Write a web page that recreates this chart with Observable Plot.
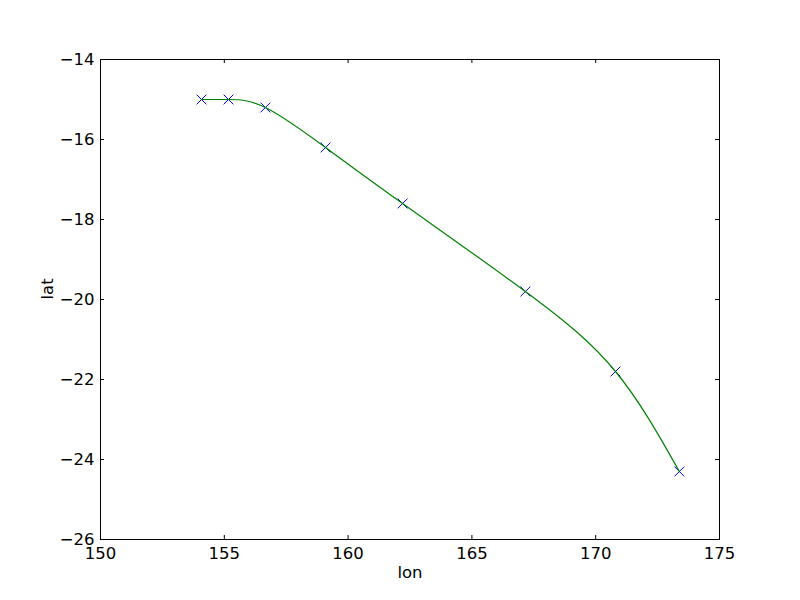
<!DOCTYPE html>
<html><head><meta charset="utf-8">
<script src="https://cdn.jsdelivr.net/npm/d3@7"></script>
<script src="https://cdn.jsdelivr.net/npm/@observablehq/plot@0.6"></script>
<style>body{margin:0;background:#fff}svg{font-family:"DejaVu Sans",sans-serif}</style>
</head><body><div id="c"></div>
<script>
const lon = [154.08, 155.17, 156.66, 159.09, 162.2, 167.16, 170.8, 173.38];
const lat = [-15.0, -15.0, -15.2, -16.2, -17.6, -19.8, -21.8, -24.3];
const xTicks = [150, 155, 160, 165, 170, 175];
const yTicks = [-26, -24, -22, -20, -18, -16, -14];
const data = lon.map((x, i) => ({lon: x, lat: lat[i]}));
const W = 800, H = 600, mL = 100, mR = 81, mT = 59, mB = 61;
const iw = W - mL - mR, ih = H - mT - mB;
const chart = Plot.plot({
  width: W, height: H,
  marginLeft: mL, marginRight: mR, marginTop: mT, marginBottom: mB,
  style: {fontSize: "16.5px", fontFamily: "DejaVu Sans, sans-serif", color: "#000", background: "#fff"},
  x: {domain: [150, 175], ticks: xTicks, label: null},
  y: {domain: [-26, -14], ticks: yTicks, label: null},
  marks: [
    Plot.dot(data, {x: "lon", y: "lat", symbol: "times", stroke: "#0000ff", r: 4.5, strokeWidth: 1}),
    Plot.line(data, {x: "lon", y: "lat", curve: "natural", stroke: "#008000", strokeWidth: 1.2}),
    Plot.tickX(xTicks, {x: d => d, insetTop: ih - 4, stroke: "#000"}),
    Plot.tickX(xTicks, {x: d => d, insetBottom: ih - 4, stroke: "#000"}),
    Plot.tickY(yTicks, {y: d => d, insetRight: iw - 4, stroke: "#000"}),
    Plot.tickY(yTicks, {y: d => d, insetLeft: iw - 4, stroke: "#000"}),
    Plot.axisX({ticks: xTicks, tickSize: 0, tickPadding: 8, label: null}),
    Plot.axisY({ticks: yTicks, tickSize: 0, tickPadding: 6, label: null}),
    Plot.frame({stroke: "#000", strokeWidth: 1}),
    Plot.text(["lon"], {frameAnchor: "bottom", dy: 38, fontSize: 16.5}),
    Plot.text(["lat"], {frameAnchor: "left", dx: -53, rotate: -90, fontSize: 16.5})
  ]
});
document.getElementById("c").appendChild(chart);
</script></body></html>
